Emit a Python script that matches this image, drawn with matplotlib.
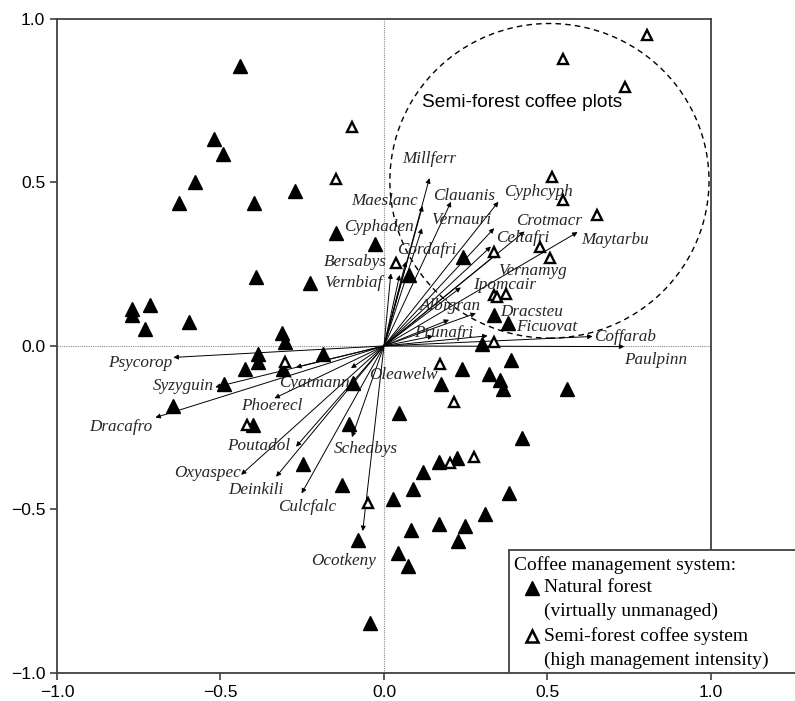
import matplotlib.pyplot as plt
from matplotlib.patches import Ellipse, Rectangle

# plot scores, natural forest (filled)
natural_x = [-0.441, -0.519, -0.491, -0.578, -0.628, -0.398, -0.271, -0.148, -0.027, -0.390,
             -0.226, -0.771, -0.771, -0.717, -0.731, -0.597, -0.313, -0.304,
             0.242, 0.077, 0.337, 0.378, 0.299,
             -0.384, -0.386, -0.425, -0.308, -0.188, -0.489, -0.646, -0.400, -0.095, -0.107,
             -0.249, -0.128, -0.080, -0.044, 0.027, 0.047, 0.042,
             0.238, 0.387, 0.322, 0.356, 0.363, 0.561, 0.174, 0.423, 0.222, 0.168, 0.119,
             0.090, 0.381, 0.310, 0.169, 0.247, 0.083, 0.226, 0.074]
natural_y = [0.856, 0.633, 0.586, 0.502, 0.436, 0.436, 0.474, 0.345, 0.313, 0.212,
             0.192, 0.112, 0.094, 0.126, 0.051, 0.072, 0.039, 0.011,
             0.273, 0.217, 0.095, 0.071, 0.006,
             -0.024, -0.048, -0.071, -0.069, -0.025, -0.117, -0.183, -0.243, -0.112, -0.239,
             -0.362, -0.424, -0.592, -0.846, -0.469, -0.206, -0.634,
             -0.071, -0.044, -0.087, -0.104, -0.133, -0.133, -0.117, -0.283, -0.343, -0.354, -0.387,
             -0.436, -0.450, -0.515, -0.545, -0.551, -0.564, -0.595, -0.672]

# plot scores, semi-forest coffee (open)
semi_x = [-0.097, -0.146, 0.038, 0.803, 0.548, 0.738, 0.514, 0.549, 0.650, 0.476, 0.508,
          0.337, 0.335, 0.345, 0.374, 0.337, -0.302, -0.419, -0.050, 0.170, 0.213, 0.276, 0.203]
semi_y = [0.668, 0.511, 0.255, 0.952, 0.877, 0.792, 0.518, 0.447, 0.401, 0.303, 0.270,
          0.288, 0.156, 0.151, 0.159, 0.011, -0.050, -0.243, -0.479, -0.054, -0.171, -0.339, -0.357]

# species arrows: name, tip, label position (left edge, centre)
species = ["Millferr", "Maeslanc", "Cyphaden", "Clauanis", "Vernauri", "Cyphcyph", "Crotmacr",
           "Celtafri", "Maytarbu", "Vernamyg", "Ipomcair", "Albigran", "Dracsteu", "Prunafri",
           "Ficuovat", "Coffarab", "Paulpinn", "Cordafri", "Bersabys", "Vernbiaf",
           "Psycorop", "Syzyguin", "Dracafro", "Cyatmann", "Oleawelw", "Phoerecl", "Poutadol",
           "Oxyaspec", "Deinkili", "Culcfalc", "Scheabys", "Ocotkeny"]
tip_x = [0.139, 0.118, 0.116, 0.205, 0.337, 0.350, 0.430, 0.327, 0.592, 0.347, 0.235, 0.199,
         0.281, 0.150, 0.317, 0.638, 0.735, 0.067, 0.021, 0.048,
         -0.644, -0.516, -0.699, -0.269, -0.101, -0.335, -0.269, -0.437, -0.330, -0.252,
         -0.098, -0.065]
tip_y = [0.513, 0.428, 0.360, 0.441, 0.360, 0.441, 0.350, 0.304, 0.348, 0.283, 0.179, 0.080,
         0.100, 0.030, 0.031, 0.029, -0.002, 0.258, 0.222, 0.217,
         -0.035, -0.126, -0.219, -0.065, -0.068, -0.160, -0.308, -0.394, -0.400, -0.451,
         -0.279, -0.566]
lab_x = [0.057, -0.101, -0.123, 0.149, 0.144, 0.368, 0.404, 0.343, 0.602, 0.348, 0.271, 0.111,
         0.356, 0.093, 0.404, 0.643, 0.735, 0.040, -0.184, -0.182,
         -0.845, -0.707, -0.901, -0.320, -0.045, -0.437, -0.481, -0.643, -0.475, -0.323,
         -0.152, -0.223]
lab_y = [0.571, 0.443, 0.365, 0.457, 0.385, 0.472, 0.383, 0.329, 0.324, 0.230, 0.187, 0.122,
         0.105, 0.039, 0.059, 0.027, -0.043, 0.294, 0.256, 0.194,
         -0.053, -0.122, -0.247, -0.114, -0.089, -0.183, -0.305, -0.389, -0.440, -0.491,
         -0.316, -0.657]

ticks = [-1.0, -0.5, 0.0, 0.5, 1.0]
tick_labels = ["\u22121.0", "\u22120.5", "0.0", "0.5", "1.0"]

fig = plt.figure(figsize=(7.95, 7.01), dpi=100)
ax = fig.add_axes([0.0717, 0.040, 0.9283, 0.933])
ax.set_xlim(-1.0, 1.257)
ax.set_ylim(-1.0, 1.0)

spine_col = "0.25"
for s in ["top", "right"]:
    ax.spines[s].set_visible(False)
for s in ["left", "bottom"]:
    ax.spines[s].set_color(spine_col)
    ax.spines[s].set_linewidth(1.3)
ax.plot([-1.0, 1.0], [1.0, 1.0], color=spine_col, lw=1.3, clip_on=False, zorder=5)
ax.plot([1.0, 1.0], [1.0, -0.624], color=spine_col, lw=1.3, clip_on=False, zorder=5)

ax.set_xticks(ticks)
ax.set_xticklabels(tick_labels)
ax.set_yticks(ticks)
ax.set_yticklabels(tick_labels)
ax.tick_params(direction="out", length=5, width=1.2, color=spine_col, labelsize=12.6)
for lab in ax.get_xticklabels() + ax.get_yticklabels():
    lab.set_family("Liberation Sans")

# zero lines
ax.plot([0, 0], [-1, 1], color="0.55", lw=0.8, ls=(0, (1, 1)), zorder=1)
ax.plot([-1, 1], [0, 0], color="0.55", lw=0.8, ls=(0, (1, 1)), zorder=1)

# semi-forest circle
ax.add_patch(Ellipse((0.506, 0.505), 0.976, 0.962, fill=False, ls=(0, (4, 3)),
                     lw=1.0, color="black", zorder=2))
ax.text(0.116, 0.743, "Semi-forest coffee plots", family="Liberation Sans", fontsize=13.8,
        va="center", ha="left")

# arrows
for name, tx, ty, lx, ly in zip(species, tip_x, tip_y, lab_x, lab_y):
    ax.annotate("", xy=(tx, ty), xytext=(0, 0),
                arrowprops=dict(arrowstyle="-|>", lw=0.7, color="black",
                                mutation_scale=7, shrinkA=0, shrinkB=0), zorder=3)
    ax.text(lx, ly, name, family="Liberation Serif", style="italic", fontsize=12.3,
            color="0.15", ha="left", va="center", zorder=4)

# sites
ax.plot(natural_x, natural_y, ls="none", marker="^", ms=9.5, color="black", zorder=6)
ax.plot(semi_x, semi_y, ls="none", marker="^", ms=7.5, mfc="white", mec="black",
        mew=1.7, zorder=6)

# legend box
ax.add_patch(Rectangle((0.382, -1.0), 1.0, 0.376, facecolor="white",
                       edgecolor=spine_col, lw=1.3, zorder=7))
leg_font = dict(family="Liberation Serif", fontsize=14, va="center", ha="left", zorder=8)
ax.text(0.398, -0.669, "Coffee management system:", **leg_font)
ax.plot([0.452], [-0.740], ls="none", marker="^", ms=10, color="black", zorder=8)
ax.text(0.489, -0.740, "Natural forest", **leg_font)
ax.text(0.489, -0.813, "(virtually unmanaged)", **leg_font)
ax.plot([0.452], [-0.887], ls="none", marker="^", ms=8, mfc="white", mec="black",
        mew=1.8, zorder=8)
ax.text(0.489, -0.887, "Semi-forest coffee system", **leg_font)
ax.text(0.489, -0.960, "(high management intensity)", **leg_font)

plt.savefig("out.png", dpi=100)
